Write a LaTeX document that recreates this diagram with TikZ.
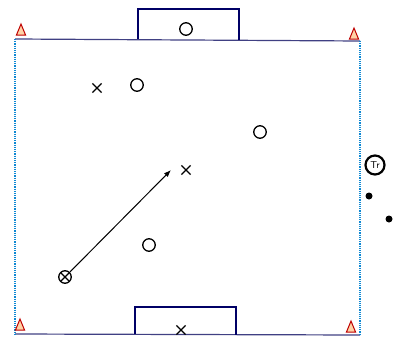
\documentclass[tikz,border=0pt]{standalone}
\usepackage{tikz}
\usetikzlibrary{arrows.meta,shapes.geometric,shapes.misc}

\begin{document}
\begin{tikzpicture}[
    x=1pt, y=-1pt,
    fieldline/.style={draw=blue!35!black!75, line width=1.2pt},
    sideline/.style={draw=cyan!70!blue, line width=1.2pt, densely dotted},
    goalbox/.style={draw=blue!40!black, line width=1.8pt},
    cone/.style={isosceles triangle, isosceles triangle apex angle=45, shape border rotate=90, draw=red!75!black, fill=orange!35, line width=1pt, minimum width=8pt, minimum height=11pt, inner sep=0pt},
    player/.style={circle, draw, line width=1.3pt, minimum size=12.5pt, inner sep=0pt},
    opponent/.style={cross out, draw, line width=1.2pt, minimum size=8pt, inner sep=0pt},
    coach/.style={circle, draw, line width=2.2pt, minimum size=19pt, inner sep=0pt, font=\sffamily},
    ball/.style={circle, fill, minimum size=7pt, inner sep=0pt},
    run/.style={-{Latex[length=2.5mm]}, line width=1pt}
]
\useasboundingbox (0,0) rectangle (403,337);

% Field corners
\coordinate (tl) at (15,39);
\coordinate (tr) at (360,41);
\coordinate (bl) at (15,334);
\coordinate (br) at (360,335);

\draw[fieldline] (tl) -- (tr);
\draw[fieldline] (bl) -- (br);
\draw[sideline] (tl) -- (bl);
\draw[sideline] (tr) -- (br);

% Goals
\draw[goalbox] (138,39) |- (239,9) -- (239,40);
\draw[goalbox] (135,334) |- (236,307) -- (236,335);

% Cones
\node[cone] (cone1) at (21,32) {};
\node[cone] (cone2) at (354,36) {};
\node[cone] (cone3) at (20,327) {};
\node[cone] (cone4) at (351,329) {};

% Players
\node[player] (keeper) at (186,29) {};
\node[player] (p1) at (137,85) {};
\node[player] (p2) at (260,132) {};
\node[player] (p3) at (149,245) {};
\node[player] (start) at (65,277) {};
\node[opponent, minimum size=7pt] (startx) at (start) {};

\node[opponent] (x1) at (97,88) {};
\node[opponent] (x2) at (186,170) {};
\node[opponent] (keeperx) at (181,330) {};

% Run
\coordinate (runend) at (171,170);
\draw[run] (start) -- (runend);

% Coach and balls
\node[coach] (coach) at (375,165) {Tr};
\node[ball] (ball1) at (369,196) {};
\node[ball] (ball2) at (389,219) {};

\end{tikzpicture}
\end{document}
